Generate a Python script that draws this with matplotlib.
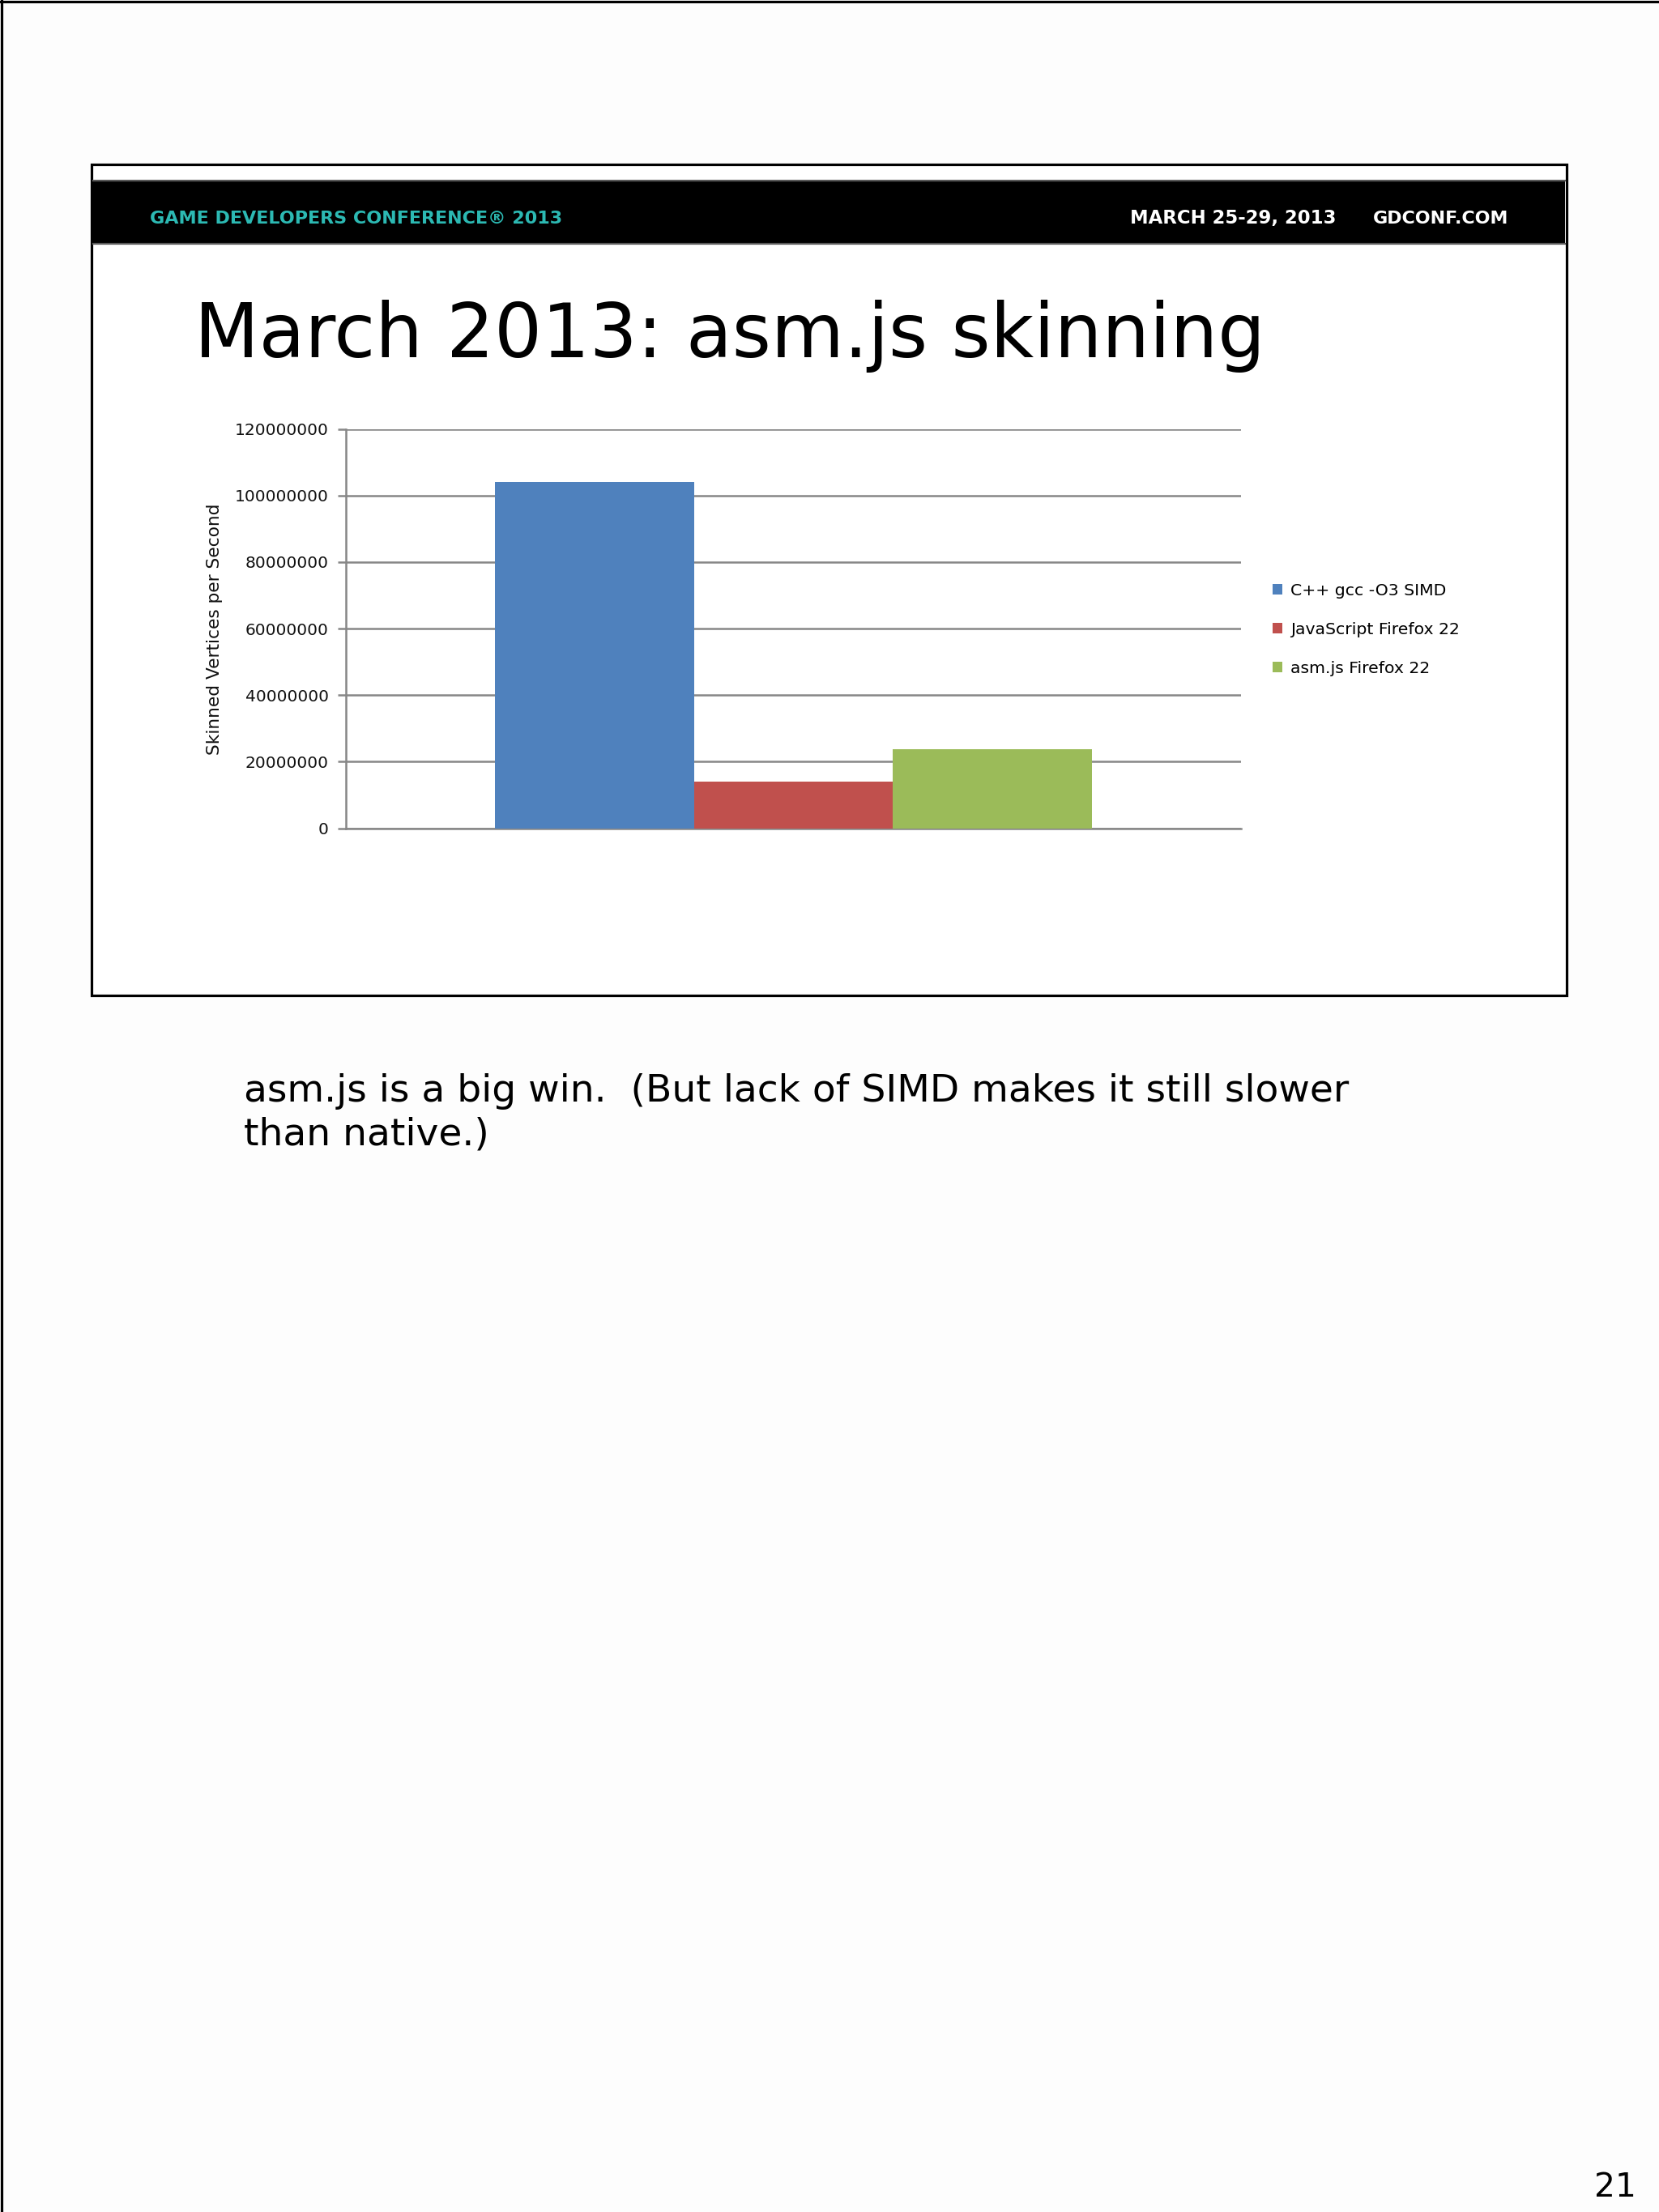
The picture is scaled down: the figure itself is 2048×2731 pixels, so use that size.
import matplotlib
matplotlib.use('Agg')
import matplotlib.pyplot as plt
from matplotlib.patches import Rectangle
from matplotlib.lines import Line2D

# ---------------- data ----------------
series = ['C++ gcc -O3 SIMD', 'JavaScript Firefox 22', 'asm.js Firefox 22']
values = [104_000_000, 14_100_000, 23_800_000]
colors = ['#4F81BD', '#C0504D', '#9BBB59']
y_ticks = [0, 20_000_000, 40_000_000, 60_000_000, 80_000_000, 100_000_000, 120_000_000]
y_tick_labels = ['0', '20000000', '40000000', '60000000', '80000000', '100000000', '120000000']
y_label = 'Skinned Vertices per Second'
title = 'March 2013: asm.js skinning'
header_left = 'GAME DEVELOPERS CONFERENCE® 2013'
header_date = 'MARCH 25-29, 2013'
header_site = 'GDCONF.COM'
caption_lines = ['asm.js is a big win.  (But lack of SIMD makes it still slower',
                 'than native.)']
page_number = '21'

# ---------------- figure ----------------
W, H = 2048, 2731
fig = plt.figure(figsize=(W / 100, H / 100), dpi=100, facecolor='#fdfdfd')


def fx(x):
    return x / W


def fy(y):
    return 1 - y / H


renderer = fig.canvas.get_renderer()


def fit(t, target, vertical=False):
    bb = t.get_window_extent(renderer=renderer)
    size = bb.height if vertical else bb.width
    t.set_fontsize(t.get_fontsize() * target / size)
    return t


# page border (top and left)
fig.add_artist(Line2D([0, 1], [fy(1.5), fy(1.5)], transform=fig.transFigure,
                      color='black', lw=2.3, zorder=-5))
fig.add_artist(Line2D([fx(1.5), fx(1.5)], [0, 1], transform=fig.transFigure,
                      color='black', lw=2.3, zorder=-5))

# slide box
fig.add_artist(Rectangle((fx(113), fy(1229)), (1934 - 113) / W, (1229 - 203) / H,
                         transform=fig.transFigure, facecolor='white',
                         edgecolor='black', lw=2.3, zorder=-4))
# header band
fig.add_artist(Rectangle((fx(115), fy(300)), (1932 - 115) / W, (300 - 223) / H,
                         transform=fig.transFigure, facecolor='black',
                         edgecolor='none', zorder=-3))
for yy in (222.5, 300.5):
    fig.add_artist(Line2D([fx(115), fx(1932)], [fy(yy), fy(yy)],
                          transform=fig.transFigure, color='#5a5a5a', lw=1.6, zorder=-2))

hb = 276
t = fig.text(fx(185), fy(hb), header_left, color='#2cb9b3', fontweight='bold',
             ha='left', va='baseline', fontsize=20)
fit(t, 509)
t = fig.text(fx(1395), fy(hb), header_date, color='white', fontweight='bold',
             ha='left', va='baseline', fontsize=20)
fit(t, 254)
t = fig.text(fx(1695), fy(hb), header_site, color='white', fontweight='bold',
             ha='left', va='baseline', fontsize=20)
fit(t, 167)

# title
t = fig.text(fx(240), fy(441), title, color='black', ha='left', va='baseline', fontsize=70)
fit(t, 1324)

# ---------------- chart ----------------
ax_left, ax_right, ax_top, ax_bottom = 427, 1532, 529.5, 1022.5
ax = fig.add_axes([fx(ax_left), fy(ax_bottom), (ax_right - ax_left) / W,
                   (ax_bottom - ax_top) / H])
ax.set_facecolor('white')
bar_w = 2 / 3 / len(series)
handles = []
for i, (name, val, col) in enumerate(zip(series, values, colors)):
    x = (i - (len(series) - 1) / 2) * bar_w
    b = ax.bar(x, val, bar_w, color=col, label=name, zorder=3, linewidth=0)
    handles.append(b)
ax.set_xlim(-0.5, 0.5)
ax.set_ylim(y_ticks[0], y_ticks[-1])
ax.set_yticks(y_ticks)
ax.set_yticklabels(y_tick_labels)
ax.set_xticks([])
ax.yaxis.grid(True, color='#878787', lw=1.8)
ax.set_axisbelow(True)
for s in ('top', 'right'):
    ax.spines[s].set_visible(False)
for s in ('left', 'bottom'):
    ax.spines[s].set_color('#878787')
    ax.spines[s].set_linewidth(1.8)
ax.tick_params(axis='y', length=7.2, width=1.8, color='#878787', pad=8,
               labelsize=14.5, labelcolor='#111111')

t = fig.text(fx(265), fy(777), y_label, rotation=90, ha='center', va='center',
             fontsize=15, color='#111111')
fit(t, 309, vertical=True)

ax.legend(handles=handles, labels=series, loc='upper left',
          bbox_to_anchor=(fx(1571), fy(720)), bbox_transform=fig.transFigure,
          frameon=False, fontsize=14.7, handlelength=0.6, handleheight=0.6,
          handletextpad=0.5, labelspacing=1.42, borderpad=0, borderaxespad=0)

# ---------------- caption ----------------
c1 = fig.text(fx(301), fy(1360), caption_lines[0], ha='left', va='baseline',
              fontsize=30, color='black')
fit(c1, 1362)
c2 = fig.text(fx(301), fy(1414), caption_lines[1], ha='left', va='baseline',
              fontsize=c1.get_fontsize(), color='black')

t = fig.text(fx(2020), fy(2712), page_number, ha='right', va='baseline', fontsize=33)
fit(t, 52)

fig.savefig('out.png', dpi=100, facecolor=fig.get_facecolor())
